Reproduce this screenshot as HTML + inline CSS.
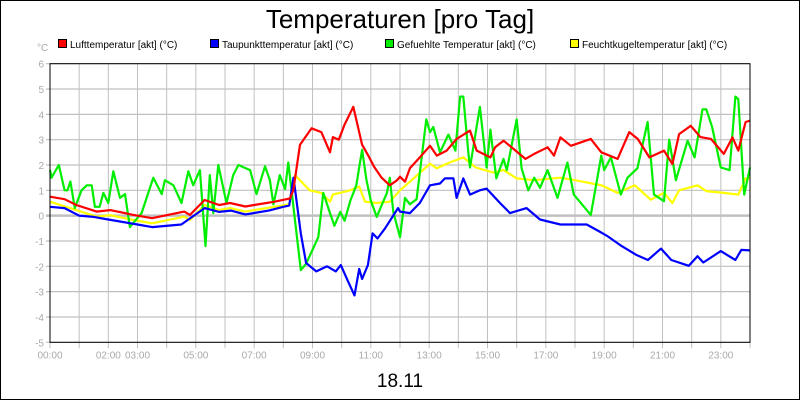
<!DOCTYPE html>
<html><head><meta charset="utf-8"><style>
body{margin:0;background:#fff}
svg{display:block;font-family:"Liberation Sans",sans-serif}
</style></head><body>
<svg id="chart" width="800" height="400" viewBox="0 0 800 400" xmlns="http://www.w3.org/2000/svg">
<rect x="0.5" y="0.5" width="799" height="399" fill="#fff" stroke="#000"/>
<text x="400" y="28" text-anchor="middle" font-size="26">Temperaturen [pro Tag]</text>
<text x="37" y="51" font-size="10" fill="#aaa">°C</text>
<g id="legend"></g>
<g id="grid"></g>
<g id="series"></g>
<rect x="50" y="63.7" width="700" height="278.6" fill="none" stroke="#000"/>
<text x="400" y="387" text-anchor="middle" font-size="19">18.11</text>
</svg>
<script>
const yTicks=[-5,-4,-3,-2,-1,0,1,2,3,4,5,6];
const xTickLabels=["00:00","02:00","03:00","05:00","07:00","09:00","11:00","13:00","15:00","17:00","19:00","21:00","23:00"];
const xTickHours=[0,2,3,5,7,9,11,13,15,17,19,21,23];
const seriesNames=["Lufttemperatur [akt] (°C)","Taupunkttemperatur [akt] (°C)","Gefuehlte Temperatur [akt] (°C)","Feuchtkugeltemperatur [akt] (°C)"];
const seriesColors=["#ff0000","#0000ff","#00ee00","#ffff00"];
const lufT=[0,0.5,0.9,1.6,2.06,2.86,3.5,4.6,4.8,5.3,5.8,6.17,6.7,7.0,7.7,8.23,8.34,8.57,8.97,9.3,9.6,9.7,9.9,10.1,10.4,10.7,10.9,11.1,11.37,11.65,11.9,12.0,12.17,12.34,12.68,13.03,13.26,13.6,13.94,14.4,14.63,15.1,15.26,15.55,15.9,16.3,16.6,17.06,17.28,17.5,17.86,18.54,18.9,19.46,19.86,20.15,20.55,21.05,21.34,21.57,21.97,22.3,22.66,23.1,23.4,23.6,23.85,24];
const lufV=[0.75,0.65,0.42,0.16,0.22,0.03,-0.1,0.16,0.03,0.62,0.42,0.5,0.36,0.42,0.55,0.68,1.0,2.8,3.45,3.3,2.5,3.1,3.0,3.6,4.3,2.8,2.4,1.95,1.5,1.2,1.4,1.54,1.34,1.87,2.3,2.76,2.37,2.57,3.03,3.36,2.57,2.3,2.7,2.96,2.63,2.24,2.44,2.7,2.37,3.09,2.76,3.03,2.5,2.24,3.3,3.03,2.3,2.57,2.04,3.22,3.55,3.1,3.03,2.44,3.09,2.57,3.7,3.75];
const tauT=[0,0.5,1,1.5,2,3,3.5,4.5,5.3,5.8,6.2,6.7,7.5,8.0,8.2,8.35,8.6,8.78,9.13,9.5,9.8,9.97,10.2,10.44,10.6,10.7,10.9,11.06,11.23,11.49,11.93,12.0,12.34,12.68,13.03,13.37,13.54,13.83,13.94,14.17,14.4,14.74,14.97,15.43,15.77,16.34,16.8,17.5,17.96,18.4,18.8,19.1,19.6,20.1,20.5,20.95,21.3,21.9,22.2,22.4,23.0,23.5,23.7,24];
const tauV=[0.35,0.3,0.0,-0.05,-0.15,-0.35,-0.45,-0.35,0.3,0.15,0.2,0.05,0.2,0.35,0.4,1.5,-0.7,-1.87,-2.2,-2.0,-2.2,-1.95,-2.55,-3.15,-2.1,-2.5,-1.95,-0.7,-0.9,-0.5,0.3,0.16,0.1,0.5,1.2,1.27,1.47,1.47,0.7,1.47,0.83,1.0,1.07,0.5,0.1,0.3,-0.15,-0.35,-0.35,-0.35,-0.6,-0.8,-1.2,-1.55,-1.75,-1.3,-1.75,-1.98,-1.6,-1.85,-1.4,-1.75,-1.35,-1.37];
const gefT=[0,0.05,0.3,0.5,0.6,0.7,0.85,1.08,1.26,1.43,1.54,1.7,1.83,2.0,2.17,2.4,2.57,2.74,3.14,3.54,3.83,3.94,4.23,4.51,4.74,4.91,5.14,5.33,5.48,5.6,5.77,6.05,6.28,6.46,6.86,7.08,7.37,7.54,7.66,7.88,8.06,8.17,8.28,8.6,8.78,9.2,9.37,9.6,9.75,9.95,10.1,10.3,10.5,10.7,10.85,11.0,11.2,11.55,11.65,11.77,12.0,12.17,12.34,12.57,12.9,13.03,13.14,13.37,13.66,13.9,14.06,14.17,14.34,14.4,14.74,14.97,15.1,15.3,15.55,15.66,16.0,16.17,16.4,16.6,16.8,17.06,17.4,17.74,17.96,18.54,18.9,19.0,19.23,19.57,19.8,20.14,20.49,20.71,21.05,21.23,21.46,21.86,22.1,22.37,22.5,22.7,23.0,23.3,23.5,23.6,23.8,24];
const gefV=[1.8,1.5,2.0,1.0,1.0,1.35,0.3,1.0,1.2,1.2,0.35,0.35,0.9,0.5,1.75,0.7,0.85,-0.45,0.1,1.5,0.85,1.4,1.2,0.5,1.75,1.2,1.8,-1.2,1.6,0.1,2.0,0.5,1.6,2.0,1.8,0.85,1.95,1.4,0.45,1.6,1.05,2.1,1.0,-2.15,-1.9,-0.85,0.9,0.1,-0.4,0.15,-0.2,0.6,1.2,2.6,1.4,0.6,-0.05,0.9,1.5,0.15,-0.85,0.7,0.45,0.65,3.8,3.3,3.5,2.5,3.2,2.57,4.7,4.7,2.5,1.9,4.3,1.9,3.4,1.47,2.24,1.8,3.8,1.87,1.0,1.5,1.1,1.8,0.7,2.1,0.83,0.03,2.37,1.8,2.3,0.83,1.5,1.87,3.7,0.83,0.57,3.0,1.4,2.96,2.3,4.2,4.2,3.5,1.9,1.8,4.7,4.6,0.83,1.9];
const feuT=[0,0.9,1.6,2.06,2.86,3.5,4.6,4.8,5.3,5.8,6.17,6.7,7.0,7.7,8.2,8.4,8.9,9.3,9.6,9.7,10.3,10.6,10.8,11.2,11.65,12.0,12.34,13.03,13.26,13.7,14.17,14.6,15.2,15.55,16.0,16.6,17.5,18.0,18.9,19.46,20.05,20.6,21.05,21.34,21.57,22.2,22.5,23.1,23.6,23.85,24];
const feuV=[0.55,0.22,-0.04,0.02,-0.17,-0.3,-0.04,-0.17,0.42,0.22,0.3,0.16,0.22,0.35,0.45,1.6,1.0,0.9,0.55,0.83,1.0,1.15,0.55,0.5,0.55,1.0,1.34,2.05,1.87,2.1,2.3,1.9,1.7,1.8,1.47,1.4,1.5,1.4,1.2,0.9,1.2,0.63,0.9,0.5,1.0,1.2,0.97,0.9,0.83,1.47,1.47];

const NS="http://www.w3.org/2000/svg";
const X0=50,X1=750,YTOP=63.7,YBOT=342.3,VMIN=-5,VMAX=6;
function xs(h){return X0+(h/24)*(X1-X0);}
function ys(v){return YBOT-(v-VMIN)/(VMAX-VMIN)*(YBOT-YTOP);}
function mk(tag,attrs,parent){const e=document.createElementNS(NS,tag);for(const k in attrs)e.setAttribute(k,attrs[k]);parent.appendChild(e);return e;}
const grid=document.getElementById('grid');
for(let h=1;h<24;h++){
  const l=mk('line',{x1:xs(h),x2:xs(h),y1:YTOP,y2:YBOT+6,stroke:'#c0c0c0'},grid);
  
  
}
mk('line',{x1:xs(0),x2:xs(0),y1:YBOT,y2:YBOT+6,stroke:'#c0c0c0'},grid);
mk('line',{x1:xs(24),x2:xs(24),y1:YBOT,y2:YBOT+6,stroke:'#c0c0c0'},grid);
yTicks.forEach(v=>{
  const l=mk('line',{x1:X0-4,x2:X1,y1:ys(v),y2:ys(v),stroke:'#c0c0c0','stroke-width':v===0?2.5:1.2},grid);
  
  
  const t=mk('text',{x:X0-6,y:ys(v)+4,'text-anchor':'end','font-size':10,fill:'#aaa'},grid);
  t.textContent=v;
  
  
});
xTickHours.forEach((h,i)=>{
  const t=mk('text',{x:xs(h),y:YBOT+16,'text-anchor':'middle','font-size':10,fill:'#aaa'},grid);
  t.textContent=xTickLabels[i];
  
  
});
const ser=document.getElementById('series');
const data=[[lufT,lufV],[tauT,tauV],[gefT,gefV],[feuT,feuV]];
const order=[3,2,1,0];
order.forEach(i=>{
  const [T,V]=data[i];
  const p=mk('polyline',{points:T.map((t,j)=>xs(t).toFixed(1)+','+ys(V[j]).toFixed(1)).join(' '),fill:'none',stroke:seriesColors[i],'stroke-width':2.2,'stroke-linejoin':'round'},ser);
  
  
});
const leg=document.getElementById('legend');
const legX=[58,210,385,570];
seriesNames.forEach((n,i)=>{
  const r=mk('rect',{x:legX[i]+0.5,y:39.5,width:8,height:8,fill:seriesColors[i],stroke:'#000'},leg);
  
  
  const t=mk('text',{x:legX[i]+12,y:48,'font-size':10,fill:'#000'},leg);
  t.textContent=n;
  
  
});
</script>
</body></html>
